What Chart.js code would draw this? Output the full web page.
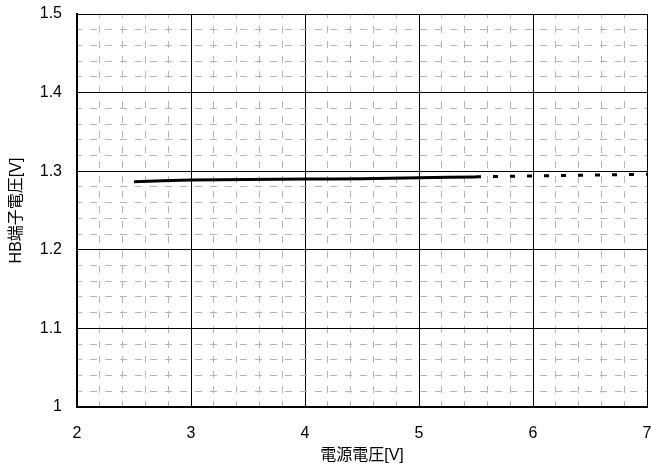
<!DOCTYPE html>
<html><head><meta charset="utf-8">
<script src="https://cdn.jsdelivr.net/npm/chart.js@4/dist/chart.umd.min.js"></script>
<style>html,body{margin:0;padding:0;background:#fff}#wrap{width:652px;height:467px}</style>
</head><body><div id="wrap"><canvas id="c" width="652" height="467"></canvas></div>
<script>
const xSolid = [2.5, 3.0, 3.5, 4.0, 4.5, 5.0, 5.5];
const ySolid = [1.2866, 1.2887, 1.2893, 1.2900, 1.2905, 1.2918, 1.2925];
const xDash = [5.5, 6.0, 6.5, 7.0];
const yDash = [1.2928, 1.2940, 1.2950, 1.2960];
const xTitle = '電源電圧[V]';
const yTitle = 'HB端子電圧[V]';
const FONT = "'Liberation Sans', 'Noto Sans CJK JP', sans-serif";

const toPts = (xs, ys) => xs.map((x, i) => ({x, y: ys[i]}));
const isMajorX = v => Math.abs(v - Math.round(v)) < 1e-6;
const isMajorY = v => Math.abs(v * 10 - Math.round(v * 10)) < 1e-6;

new Chart(document.getElementById('c'), {
  type: 'line',
  data: { datasets: [
    { data: toPts(xSolid, ySolid), borderColor: '#000', borderWidth: 3, pointRadius: 0, tension: 0.3, fill: false },
    { data: toPts(xDash, yDash), borderColor: '#000', borderWidth: 3, pointRadius: 0, tension: 0, fill: false, borderDash: [5, 12] }
  ]},
  options: {
    responsive: false, animation: false,
    layout: { padding: { left: 0, right: 5, top: 14, bottom: 0 } },
    plugins: { legend: { display: false }, tooltip: { enabled: false } },
    scales: {
      x: {
        type: 'linear', min: 2, max: 7,
        afterFit: s => { s.height = 60; s.paddingLeft = 0; s.paddingRight = 0; },
        ticks: { stepSize: 0.2, autoSkip: false, maxRotation: 0, padding: 17, color: '#000',
          font: { family: FONT, size: 16 },
          callback: v => isMajorX(v) ? String(Math.round(v)) : '' },
        grid: { drawTicks: false, color: c => (c.tick && isMajorX(c.tick.value)) ? '#000' : '#b4b4b4', lineWidth: 1 },
        border: { color: '#000', width: 2, dash: c => (c.tick && !isMajorX(c.tick.value)) ? [7, 8] : [], dashOffset: 3 },
        title: { display: true, text: xTitle, color: '#000', font: { family: FONT, size: 16 }, padding: { top: 0, bottom: 2 } }
      },
      y: {
        type: 'linear', min: 1, max: 1.5,
        afterFit: s => { s.width = 77; s.paddingTop = 0; s.paddingBottom = 0; },
        ticks: { stepSize: 0.02, autoSkip: false, padding: 15, color: '#000',
          font: { family: FONT, size: 16 },
          callback: v => isMajorY(v) ? String(Math.round(v * 10) / 10) : '' },
        grid: { drawTicks: false, color: c => (c.tick && isMajorY(c.tick.value)) ? '#000' : '#b4b4b4', lineWidth: 1 },
        border: { color: '#000', width: 2, dash: c => (c.tick && !isMajorY(c.tick.value)) ? [7, 8] : [], dashOffset: 3 },
        title: { display: true, text: yTitle, color: '#000', font: { family: FONT, size: 16 }, padding: { top: 7, bottom: 0 } }
      }
    }
  }
});
</script></body></html>
